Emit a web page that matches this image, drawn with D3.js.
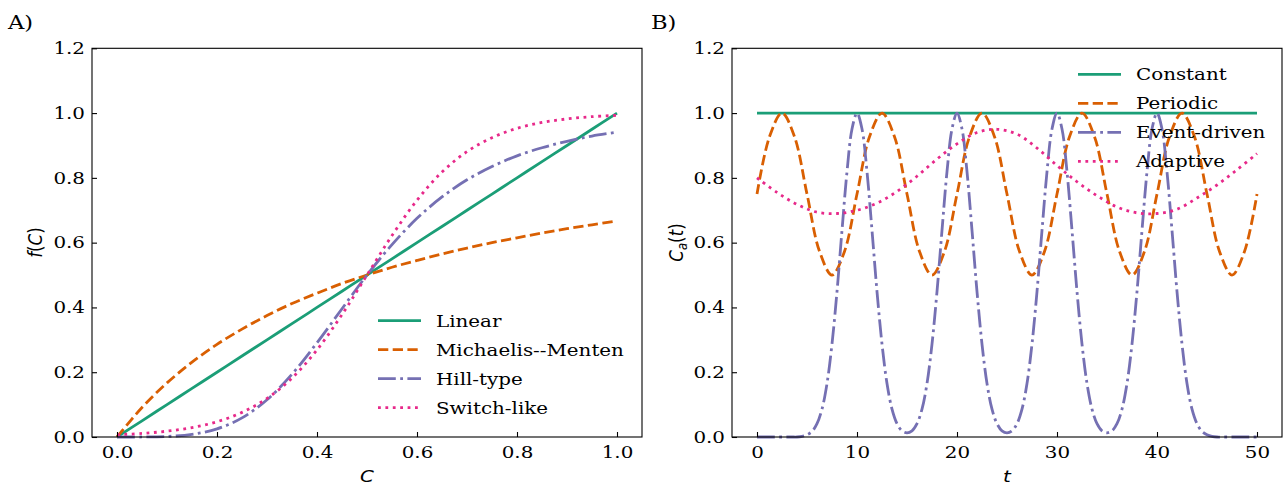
<!DOCTYPE html>
<html><head><meta charset="utf-8">
<script src="https://cdn.jsdelivr.net/npm/d3@7"></script>
<style>body{margin:0;background:#fff}</style>
</head><body>
<svg id="chart" width="1285" height="486"></svg>
<script>
// ---------- Panel A data ----------
const concC = [0,0.05,0.1,0.15,0.2,0.25,0.3,0.35,0.4,0.45,0.5,0.55,0.6,0.65,0.7,0.75,0.8,0.85,0.9,0.95,1.0];
const linearF = [0,0.05,0.1,0.15,0.2,0.25,0.3,0.35,0.4,0.45,0.5,0.55,0.6,0.65,0.7,0.75,0.8,0.85,0.9,0.95,1.0];
const michaelisF = [0,0.091,0.167,0.231,0.286,0.333,0.375,0.412,0.444,0.474,0.5,0.524,0.545,0.565,0.583,0.6,0.615,0.63,0.643,0.655,0.667];
const hillF = [0,0.0001,0.0016,0.008,0.025,0.059,0.115,0.194,0.291,0.396,0.5,0.594,0.675,0.741,0.794,0.835,0.868,0.893,0.913,0.929,0.941];
const switchF = [0.007,0.011,0.018,0.029,0.047,0.076,0.119,0.182,0.269,0.378,0.5,0.622,0.731,0.818,0.881,0.924,0.953,0.971,0.982,0.989,0.993];
const seriesA = ["Linear","Michaelis--Menten","Hill-type","Switch-like"];
const ticksAX = [0,0.2,0.4,0.6,0.8,1.0];
const ticksY = [0,0.2,0.4,0.6,0.8,1.0,1.2];

// ---------- Panel B data ----------
const constantT = [0,50];
const constantV = [1,1];
const periodicT = [0,1.25,2.5,3.75,5,6.25,7.5,8.75,10,11.25,12.5,13.75,15,16.25,17.5,18.75,20,21.25,22.5,23.75,25,26.25,27.5,28.75,30,31.25,32.5,33.75,35,36.25,37.5,38.75,40,41.25,42.5,43.75,45,46.25,47.5,48.75,50];
const periodicV = [0.75,0.927,1.0,0.927,0.75,0.573,0.5,0.573,0.75,0.927,1.0,0.927,0.75,0.573,0.5,0.573,0.75,0.927,1.0,0.927,0.75,0.573,0.5,0.573,0.75,0.927,1.0,0.927,0.75,0.573,0.5,0.573,0.75,0.927,1.0,0.927,0.75,0.573,0.5,0.573,0.75];
const eventV = [
 0,0,0,0,0,0,0,0,0,0.002,
 0.007,0.017,0.041,0.086,0.165,0.287,0.449,0.638,0.819,0.951,
 1.0,0.951,0.819,0.638,0.449,0.287,0.165,0.086,0.041,0.019,
 0.013,0.019,0.041,0.086,0.165,0.287,0.449,0.638,0.819,0.951,
 1.0,0.951,0.819,0.638,0.449,0.287,0.165,0.086,0.041,0.019,
 0.013,0.019,0.041,0.086,0.165,0.287,0.449,0.638,0.819,0.951,
 1.0,0.951,0.819,0.638,0.449,0.287,0.165,0.086,0.041,0.019,
 0.013,0.019,0.041,0.086,0.165,0.287,0.449,0.638,0.819,0.951,
 1.0,0.951,0.819,0.638,0.449,0.287,0.165,0.086,0.041,0.017,
 0.007,0.002,0,0,0,0,0,0,0,0,0];
const eventT = d3.range(0, 50.25, 0.5);
const adaptiveT = [0,2,4,6,8,10,12,14,16,18,20,22,24,26,28,30,32,34,36,38,40,42,44,46,48,50];
const adaptiveV = [0.80,0.755,0.718,0.694,0.690,0.700,0.722,0.758,0.805,0.858,0.905,0.940,0.950,0.935,0.892,0.838,0.788,0.745,0.710,0.692,0.690,0.703,0.738,0.778,0.825,0.875];
const seriesB = ["Constant","Periodic","Event-driven","Adaptive"];
const ticksBX = [0,10,20,30,40,50];

// ---------- styles ----------
const colors = ["#1b9e77","#d95f02","#7570b3","#e7298a"];
const LW = 2.8;
const dashes = [null, "10.3,4.4", "17.8,4.4,2.8,4.4", "2.8,4.6"];
const FONT = "DejaVu Serif";
const FS = 16.7;
const SX = 1.19; // horizontal stretch of glyphs seen in the reference

const svg = d3.select("#chart");
const yTop = 48.3, yBottom = 437;

function stretchAt(sel, ax, ay) {
  sel.attr("transform", `translate(${ax},${ay}) scale(${SX},1) translate(${-ax},${-ay})`);
}

function panel(x0, x1, xDomain, xTicks, fmt, series, names, legendPos) {
  const x = d3.scaleLinear().domain(xDomain).range([x0, x1]);
  const y = d3.scaleLinear().domain([0,1.2]).range([yBottom, yTop]);
  const g = svg.append("g");
  series.forEach((s, i) => {
    const line = d3.line().x(d => x(d[0])).y(d => y(d[1])).curve(d3.curveCatmullRom.alpha(0.5));
    const p = g.append("path").datum(s.t.map((t, k) => [t, s.v[k]]))
      .attr("d", line).attr("fill","none").attr("stroke", colors[i])
      .attr("stroke-width", LW).attr("stroke-linecap","butt").attr("stroke-linejoin","round");
    if (dashes[i]) p.attr("stroke-dasharray", dashes[i]);
  });
  g.append("rect").attr("x", x0).attr("y", yTop).attr("width", x1 - x0).attr("height", yBottom - yTop)
    .attr("fill","none").attr("stroke","#000").attr("stroke-width",1.1);
  const ax = g.append("g").attr("transform", `translate(0,${yBottom})`)
    .call(d3.axisBottom(x).tickValues(xTicks).tickFormat(fmt).tickSizeInner(-5).tickSizeOuter(0).tickPadding(9));
  const ay = g.append("g").attr("transform", `translate(${x0},0)`)
    .call(d3.axisLeft(y).tickValues(ticksY).tickFormat(d3.format(".1f")).tickSizeInner(-5).tickSizeOuter(0).tickPadding(7));
  [ax, ay].forEach(a => {
    a.select(".domain").remove();
    a.selectAll("line").attr("stroke","#000").attr("stroke-width",1.1);
    a.selectAll("text").attr("font-family", FONT).attr("font-size", FS).attr("fill","#000");
  });
  ax.selectAll("text").attr("transform", `scale(${SX},1)`);
  ay.selectAll("text").each(function() {
    const t = d3.select(this);
    stretchAt(t, +t.attr("x"), 0);
  });
  const lg = g.append("g");
  names.forEach((n, i) => {
    const ly = legendPos.y + i * 29;
    const l = lg.append("line").attr("x1", legendPos.x).attr("x2", legendPos.x + 43)
      .attr("y1", ly).attr("y2", ly).attr("stroke", colors[i]).attr("stroke-width", LW);
    if (dashes[i]) l.attr("stroke-dasharray", dashes[i]);
    const tx = legendPos.x + 58;
    const t = lg.append("text").attr("x", tx).attr("y", ly + 6)
      .attr("font-family", FONT).attr("font-size", FS).text(n);
    stretchAt(t, tx, ly + 6);
  });
  return {x, y};
}

panel(92, 642, [-0.05, 1.05], ticksAX, d3.format(".1f"),
  [{t: concC, v: linearF}, {t: concC, v: michaelisF}, {t: concC, v: hillF}, {t: concC, v: switchF}],
  seriesA, {x: 378, y: 320.7});

panel(732, 1282, [-2.5, 52.5], ticksBX, d3.format("d"),
  [{t: constantT, v: constantV}, {t: periodicT, v: periodicV}, {t: eventT, v: eventV}, {t: adaptiveT, v: adaptiveV}],
  seriesB, {x: 1078, y: 74.3});

stretchAt(svg.append("text").attr("x", 8).attr("y", 29).attr("font-family", FONT).attr("font-size", 19).text("A)"), 8, 29);
stretchAt(svg.append("text").attr("x", 651).attr("y", 29).attr("font-family", FONT).attr("font-size", 19).text("B)"), 651, 29);

const MF = "DejaVu Sans";
stretchAt(svg.append("text").attr("x", 367).attr("y", 482).attr("text-anchor","middle")
  .attr("font-family", MF).attr("font-size", FS).attr("font-style","italic").text("C"), 367, 482);
stretchAt(svg.append("text").attr("x", 1007).attr("y", 482).attr("text-anchor","middle")
  .attr("font-family", MF).attr("font-size", FS).attr("font-style","italic").text("t"), 1007, 482);

const yl1 = svg.append("text").attr("transform",`translate(42,242.5) scale(${SX},1) rotate(-90)`).attr("text-anchor","middle")
  .attr("font-family", MF).attr("font-size", FS);
yl1.append("tspan").attr("font-style","italic").text("f");
yl1.append("tspan").text("(");
yl1.append("tspan").attr("font-style","italic").text("C");
yl1.append("tspan").text(")");

const yl2 = svg.append("text").attr("transform",`translate(683,242.5) scale(${SX},1) rotate(-90)`).attr("text-anchor","middle")
  .attr("font-family", MF).attr("font-size", FS);
yl2.append("tspan").attr("font-style","italic").text("C");
yl2.append("tspan").attr("font-style","italic").attr("font-size", FS*0.7).attr("dy", 3.5).text("a");
yl2.append("tspan").attr("dy", -3.5).text("(");
yl2.append("tspan").attr("font-style","italic").text("t");
yl2.append("tspan").text(")");
</script>
</body></html>
